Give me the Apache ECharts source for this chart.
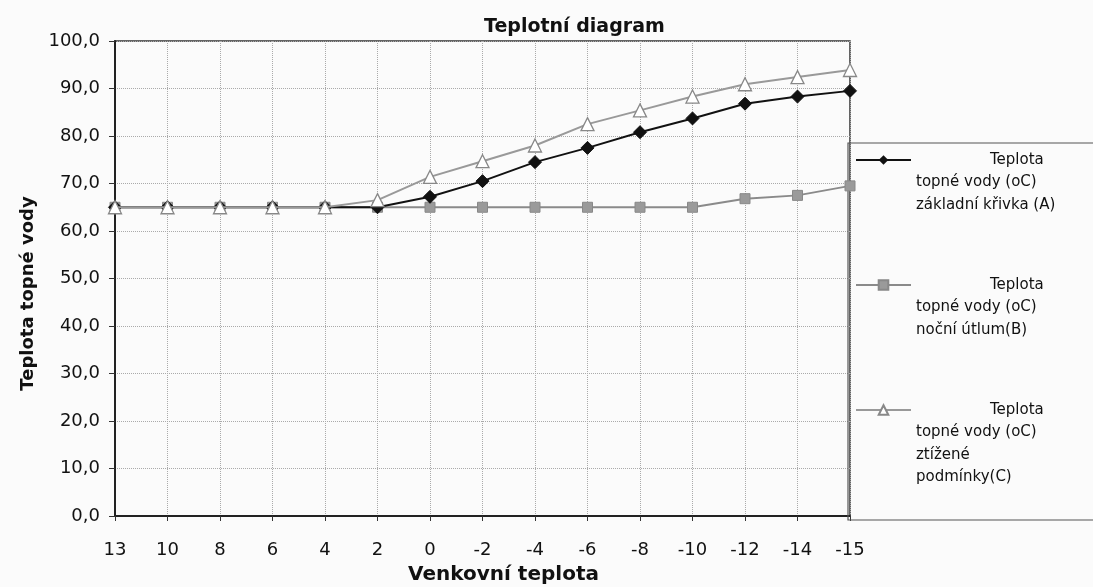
<!DOCTYPE html>
<html>
<head>
<meta charset="utf-8">
<script src="https://cdn.jsdelivr.net/npm/echarts@6/dist/echarts.min.js"></script>
<style>html,body{margin:0;padding:0;background:#fbfbfb}#c{width:1093px;height:587px}</style>
</head>
<body>
<div id="c"></div>
<script>
const categories = ['13','10','8','6','4','2','0','-2','-4','-6','-8','-10','-12','-14','-15'];
const seriesA = [65,65,65,65,65,65,67.2,70.5,74.5,77.5,80.8,83.7,86.8,88.3,89.5];
const seriesB = [65,65,65,65,65,65,65,65,65,65,65,65,66.8,67.5,69.5];
const seriesC = [65,65,65,65,65,66.5,71.4,74.7,78,82.5,85.4,88.3,90.9,92.4,93.9];
const nameA = 'Teplota topné vody (oC) základní křivka (A)';
const nameB = 'Teplota topné vody (oC) noční útlum(B)';
const nameC = 'Teplota topné vody (oC) ztížené podmínky(C)';
const legendLines = {};
legendLines[nameA] = ['Teplota','topné vody (oC)','základní křivka (A)'];
legendLines[nameB] = ['Teplota','topné vody (oC)','noční útlum(B)'];
legendLines[nameC] = ['Teplota','topné vody (oC)','ztížené','podmínky(C)'];

const FONT = 'DejaVu Sans, Verdana, sans-serif';
const LH = 22.5;
function legendFor(name, iconY) {
  const n = legendLines[name].length;
  return {
    data: [name],
    orient: 'vertical',
    left: 855,
    top: iconY - (n - 0.5) * LH,
    itemWidth: 55,
    itemHeight: 12,
    padding: 0,
    selectedMode: false,
    formatter: function (nm) {
      const ls = legendLines[nm];
      return '{f|' + ls[0] + '}\n' + ls.slice(1).map(s => '{r|' + s + '}').join('\n');
    },
    textStyle: {
      fontFamily: FONT, fontSize: 15, color: '#111', lineHeight: LH,
      padding: [(n - 1) * LH, 0, 0, 0],
      rich: {
        f: { fontFamily: FONT, fontSize: 15, color: '#111', lineHeight: LH, padding: [0, 0, 0, 74] },
        r: { fontFamily: FONT, fontSize: 15, color: '#111', lineHeight: LH }
      }
    }
  };
}

const chart = echarts.init(document.getElementById('c'));
chart.setOption({
  backgroundColor: '#fbfbfb',
  animation: false,
  title: {
    text: 'Teplotní diagram', left: 479, top: 13,
    textStyle: { fontFamily: FONT, fontSize: 19, fontWeight: 'bold', color: '#111' }
  },
  legend: [legendFor(nameA, 160), legendFor(nameB, 285), legendFor(nameC, 410)],
  grid: { left: 115, right: 243, top: 41, bottom: 71, outerBoundsMode: 'none', containLabel: false,
    show: true, borderColor: '#333', borderWidth: 1.5, backgroundColor: 'transparent' },
  graphic: [{
    type: 'rect', shape: { x: 848, y: 143, width: 260, height: 377 },
    style: { fill: 'transparent', stroke: '#555', lineWidth: 1.2 }, z: 1
  }],
  xAxis: {
    type: 'category', data: categories, boundaryGap: false,
    name: 'Venkovní teplota', nameLocation: 'middle', nameGap: 49,
    nameTextStyle: { fontFamily: FONT, fontSize: 20, fontWeight: 'bold', color: '#111', padding: [0, 0, 0, 42] },
    axisLine: { lineStyle: { color: '#222', width: 2 } },
    axisTick: { show: true, alignWithLabel: true, length: 5, lineStyle: { color: '#333' } },
    axisLabel: { fontFamily: FONT, fontSize: 18, color: '#111', margin: 25, interval: 0 },
    splitLine: { show: true, lineStyle: { color: '#aaa', type: 'dotted', width: 1 } }
  },
  yAxis: {
    type: 'value', min: 0, max: 100, interval: 10,
    name: 'Teplota topné vody', nameLocation: 'middle', nameGap: 70,
    nameTextStyle: { fontFamily: FONT, fontSize: 18, fontWeight: 'bold', color: '#111', padding: [0, 0, 0, -30] },
    axisLine: { show: true, lineStyle: { color: '#222', width: 2 } },
    axisTick: { show: true, length: 6, lineStyle: { color: '#333' } },
    axisLabel: { fontFamily: FONT, fontSize: 18, color: '#111', margin: 15,
      formatter: v => v.toFixed(1).replace('.', ',') },
    splitLine: { show: true, lineStyle: { color: '#aaa', type: 'dotted', width: 1 } }
  },
  series: [
    { name: nameA, type: 'line', data: seriesA, symbol: 'diamond', symbolSize: 13, z: 4,
      lineStyle: { color: '#111', width: 2 }, itemStyle: { color: '#111', borderColor: '#111' } },
    { name: nameB, type: 'line', data: seriesB, symbol: 'rect', symbolSize: 10, z: 3,
      lineStyle: { color: '#8a8a8a', width: 2 }, itemStyle: { color: '#9a9a9a', borderColor: '#888', borderWidth: 1 } },
    { name: nameC, type: 'line', data: seriesC, symbol: 'triangle', symbolSize: 13, z: 5,
      lineStyle: { color: '#999', width: 2 }, itemStyle: { color: '#fff', borderColor: '#888', borderWidth: 1.3 } }
  ]
});
</script>
</body>
</html>
